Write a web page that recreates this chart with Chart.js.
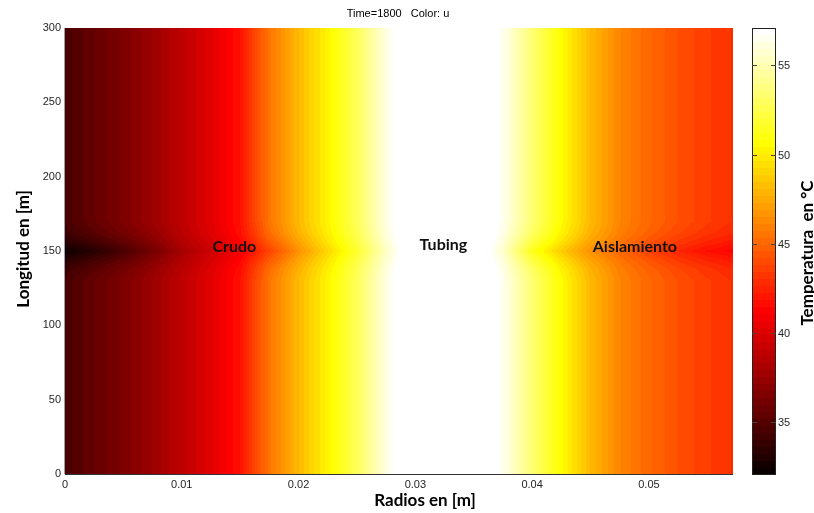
<!DOCTYPE html>
<html>
<head>
<meta charset="utf-8">
<script src="https://cdn.jsdelivr.net/npm/chart.js@4.4.0/dist/chart.umd.min.js"></script>
<style>
  html, body { margin: 0; padding: 0; background: #fff; }
</style>
</head>
<body>
<canvas id="heat" width="814" height="513"></canvas>
<script>
// radial positions (m) and temperature (°C)
const radii = [0, 0.0025, 0.005, 0.0075, 0.01, 0.0125, 0.015, 0.0175, 0.02, 0.0225, 0.025, 0.0275,
  0.03, 0.0325, 0.035, 0.0375, 0.04, 0.0425, 0.045, 0.0475, 0.05, 0.0525, 0.055, 0.0572];
// profile found over most of the length
const tempTypical = [34.6, 35.6, 36.5, 37.6, 38.9, 40.2, 41.9, 45.6, 48.1, 50.3, 52.8, 56.2,
  58.5, 58.5, 58.5, 56.5, 53.5, 50.6, 48.1, 46.2, 45.1, 44.2, 43.5, 43.0];
// profile at the middle of the length (150 m)
const tempMid = [32.4, 33.3, 34.6, 36.1, 38.0, 39.4, 40.9, 43.7, 46.6, 49.2, 51.8, 55.4,
  58.5, 58.5, 58.5, 55.6, 51.3, 48.8, 46.6, 45.1, 43.7, 42.6, 41.8, 41.3];
// how much of the middle profile shows at each length (m)
const lengthLevels = [0, 130, 138, 144, 150, 156, 162, 170, 300];
const midWeight = [0, 0, 0.2, 0.55, 1, 0.55, 0.2, 0, 0];

const xTicks = [0, 0.01, 0.02, 0.03, 0.04, 0.05];
const yTicks = [0, 50, 100, 150, 200, 250, 300];
const cbarTicks = [35, 40, 45, 50, 55];
const tempMin = 32.1;
const tempMax = 57.1;
const radiusMax = 0.0572;

const regionNames = ['Crudo', 'Tubing', 'Aislamiento'];
const regionR = [0.0145, 0.0324, 0.0488];
const regionZ = [152.5, 154, 152.5];

const tickFont = { family: 'Liberation Sans', size: 11 };
const tickColor = '#262626';
const labelFont = 'bold 17px Lato';

function interp(xs, ys, v) {
  if (v <= xs[0]) return ys[0];
  for (let i = 1; i < xs.length; i++) {
    if (v <= xs[i]) {
      const t = (v - xs[i - 1]) / (xs[i] - xs[i - 1]);
      return ys[i - 1] + t * (ys[i] - ys[i - 1]);
    }
  }
  return ys[ys.length - 1];
}

// matlab hot(64)
function hot(temp) {
  let i = Math.floor((temp - tempMin) / (tempMax - tempMin) * 64) + 1;
  i = Math.max(1, Math.min(64, i));
  const c = v => Math.round(Math.max(0, Math.min(1, v)) * 255);
  return [c(i / 24), c((i - 24) / 24), c((i - 48) / 16)];
}

const heatPlugin = {
  id: 'heat',
  beforeDatasetsDraw(chart) {
    const { ctx, chartArea: a, scales: { x, y } } = chart;
    const left = Math.round(a.left), top = Math.round(a.top);
    const w = Math.round(a.right) - left, h = Math.round(a.bottom) - top;
    const off = document.createElement('canvas');
    off.width = w;
    off.height = h;
    const octx = off.getContext('2d');
    const img = octx.createImageData(w, h);
    const colTyp = [], colMid = [];
    for (let i = 0; i < w; i++) {
      const r = x.getValueForPixel(left + i + 0.5);
      colTyp.push(interp(radii, tempTypical, r));
      colMid.push(interp(radii, tempMid, r));
    }
    for (let j = 0; j < h; j++) {
      const z = y.getValueForPixel(top + j + 0.5);
      const wt = interp(lengthLevels, midWeight, z);
      for (let i = 0; i < w; i++) {
        const c = hot(colTyp[i] + wt * (colMid[i] - colTyp[i]));
        const k = (j * w + i) * 4;
        img.data[k] = c[0];
        img.data[k + 1] = c[1];
        img.data[k + 2] = c[2];
        img.data[k + 3] = 255;
      }
    }
    octx.putImageData(img, 0, 0);
    ctx.drawImage(off, left, top);
  },
  afterDraw(chart) {
    const { ctx, chartArea: a, scales: { x, y, cb } } = chart;
    ctx.save();

    // axes box
    ctx.strokeStyle = '#9aa3ad';
    ctx.lineWidth = 1;
    ctx.beginPath();
    ctx.moveTo(Math.round(a.left) - 0.5, a.top);
    ctx.lineTo(Math.round(a.left) - 0.5, a.bottom);
    ctx.stroke();
    ctx.strokeStyle = '#333';
    ctx.beginPath();
    ctx.moveTo(a.left, Math.round(a.bottom) + 0.5);
    ctx.lineTo(a.right, Math.round(a.bottom) + 0.5);
    ctx.stroke();

    // region labels
    ctx.fillStyle = '#111';
    ctx.font = 'bold 16px Lato';
    ctx.textAlign = 'center';
    ctx.textBaseline = 'middle';
    regionNames.forEach((name, i) => {
      ctx.fillText(name, x.getPixelForValue(regionR[i]), y.getPixelForValue(regionZ[i]));
    });

    // colour bar
    const bx0 = cb.left + 19, bx1 = cb.left + 43;
    for (let k = 0; k < 64; k++) {
      const v0 = tempMin + k * (tempMax - tempMin) / 64;
      const v1 = tempMin + (k + 1) * (tempMax - tempMin) / 64;
      const p0 = cb.getPixelForValue(v0), p1 = cb.getPixelForValue(v1);
      const c = hot((v0 + v1) / 2);
      ctx.fillStyle = `rgb(${c[0]},${c[1]},${c[2]})`;
      ctx.fillRect(bx0, Math.floor(p1), bx1 - bx0, Math.ceil(p0) - Math.floor(p1));
    }
    ctx.strokeStyle = '#222';
    ctx.strokeRect(bx0 + 0.5, Math.round(cb.top) + 0.5, bx1 - bx0 - 1, Math.round(cb.bottom - cb.top));
    ctx.strokeStyle = '#444';
    ctx.fillStyle = tickColor;
    ctx.font = '11px "Liberation Sans"';
    ctx.textAlign = 'left';
    ctx.textBaseline = 'middle';
    cbarTicks.forEach(v => {
      const p = Math.round(cb.getPixelForValue(v)) + 0.5;
      ctx.beginPath();
      ctx.moveTo(bx0, p); ctx.lineTo(bx0 + 5, p);
      ctx.moveTo(bx1 - 5, p); ctx.lineTo(bx1, p);
      ctx.stroke();
      ctx.fillText(String(v), bx1 + 2, p);
    });

    // titles
    ctx.fillStyle = '#000';
    ctx.font = '11px "Liberation Sans"';
    ctx.textAlign = 'center';
    ctx.textBaseline = 'middle';
    ctx.fillText('Time=1800   Color: u', 398, 14);

    ctx.font = labelFont;
    ctx.fillText('Radios en [m]', 425, 501);

    ctx.textBaseline = 'alphabetic';
    ctx.save();
    ctx.translate(29, (a.top + a.bottom) / 2 - 2);
    ctx.rotate(-Math.PI / 2);
    ctx.fillText('Longitud en [m]', 0, 0);
    ctx.restore();

    ctx.save();
    ctx.translate(813, (a.top + a.bottom) / 2 + 2);
    ctx.rotate(-Math.PI / 2);
    ctx.fillText('Temperatura  en °C', 0, 0);
    ctx.restore();

    ctx.restore();
  }
};

new Chart(document.getElementById('heat'), {
  type: 'scatter',
  data: { datasets: [{ data: [] }] },
  options: {
    responsive: false,
    animation: false,
    devicePixelRatio: 1,
    layout: { padding: { top: 28, left: 0, right: 0, bottom: 0 } },
    plugins: { legend: { display: false }, tooltip: { enabled: false }, title: { display: false } },
    scales: {
      x: {
        type: 'linear', position: 'bottom', min: 0, max: radiusMax,
        afterBuildTicks: s => { s.ticks = xTicks.map(v => ({ value: v })); },
        afterFit: s => { s.height = 39; },
        grid: { display: false, drawTicks: false },
        border: { display: false },
        ticks: { padding: 4, font: tickFont, color: tickColor, maxRotation: 0, autoSkip: false, callback: v => String(v) }
      },
      y: {
        type: 'linear', position: 'left', min: 0, max: 300,
        afterBuildTicks: s => { s.ticks = yTicks.map(v => ({ value: v })); },
        afterFit: s => { s.width = 65; },
        grid: { display: false, drawTicks: false },
        border: { display: false },
        ticks: { padding: 4, font: tickFont, color: tickColor, autoSkip: false }
      },
      cb: {
        type: 'linear', position: 'right', min: tempMin, max: tempMax,
        afterBuildTicks: s => { s.ticks = cbarTicks.map(v => ({ value: v })); },
        afterFit: s => { s.width = 81; },
        grid: { display: false, drawTicks: false },
        border: { display: false },
        ticks: { display: false }
      }
    }
  },
  plugins: [heatPlugin]
});
</script>
</body>
</html>
